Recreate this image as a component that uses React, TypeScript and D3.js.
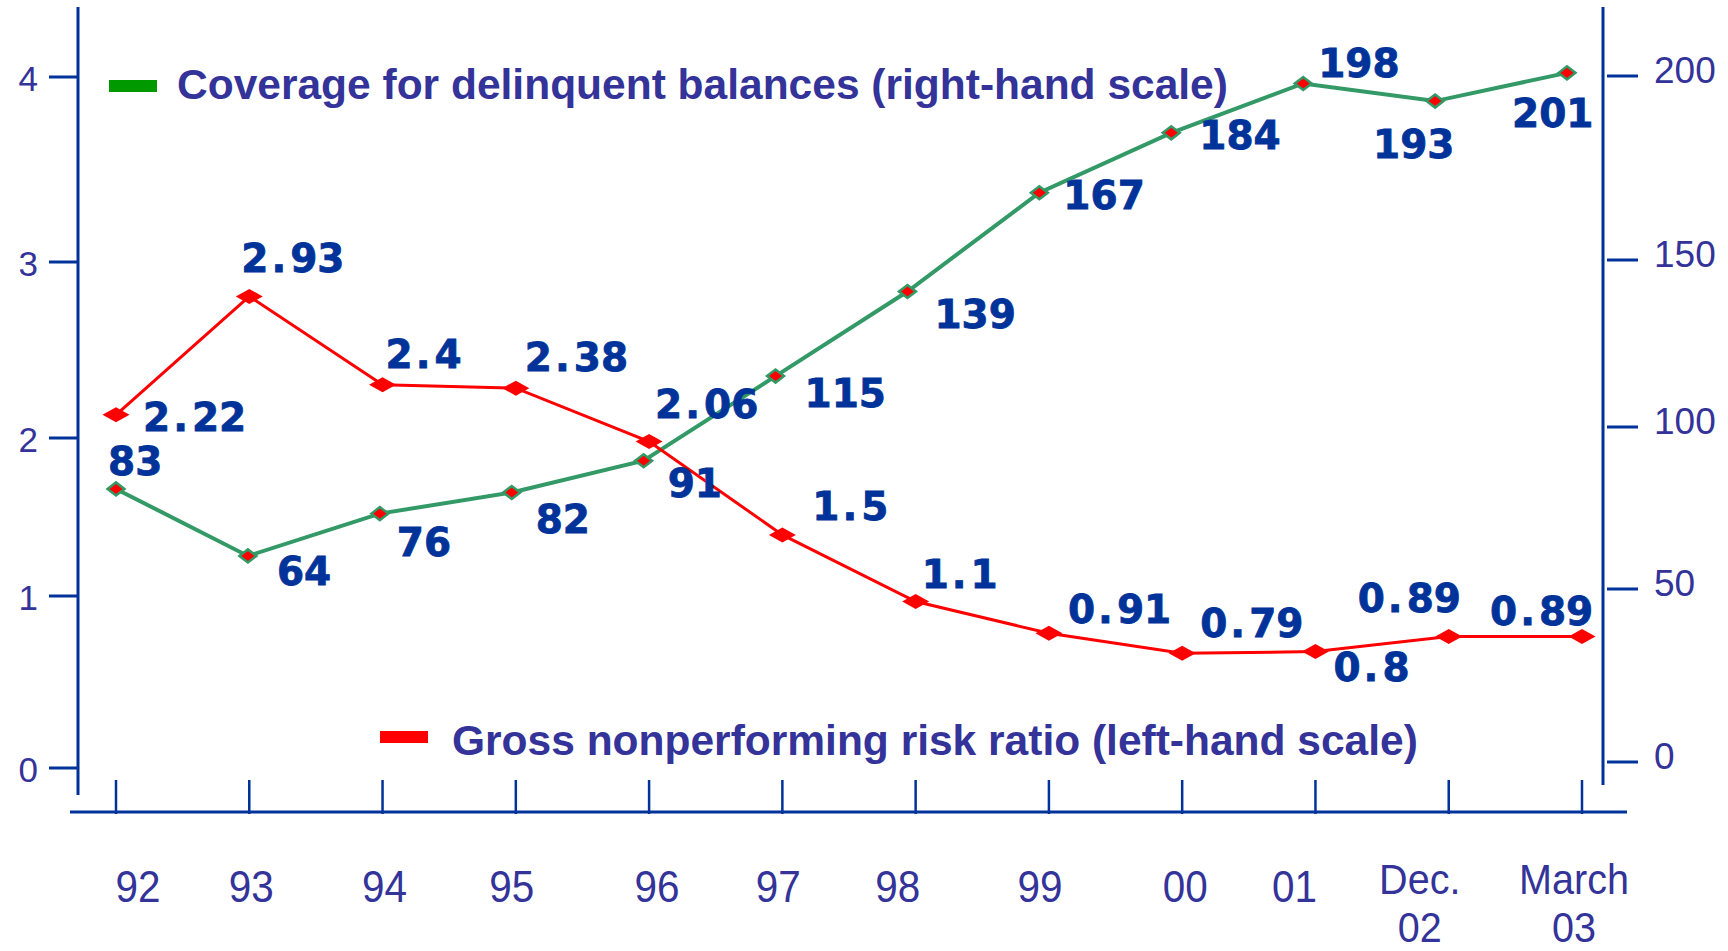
import React from "react";
import * as d3 from "d3";

const categories = ["92", "93", "94", "95", "96", "97", "98", "99", "00", "01", "Dec. 02", "March 03"];
const riskRatio = [2.22, 2.93, 2.4, 2.38, 2.06, 1.5, 1.1, 0.91, 0.79, 0.8, 0.89, 0.89];
const coverage = [83, 64, 76, 82, 91, 115, 139, 167, 184, 198, 193, 201];
const leftTicks = [0, 1, 2, 3, 4];
const rightTicks = [0, 50, 100, 150, 200];
const legendCoverage = "Coverage for delinquent balances (right-hand scale)";
const legendRisk = "Gross nonperforming risk ratio (left-hand scale)";

// label placement (offset from the point: x to text start, y to baseline)
const riskLabelOffsets = [
  [27, 16], [-8, -24], [3, -17], [9, -17], [6, -23], [30, -15],
  [6, -14], [19, -10], [18, -16], [18, 29], [-91, -25], [-92, -12],
];
const coverageLabelOffsets = [
  [-8, -14], [29, 29], [17, 42], [24, 41], [24, 36], [29, 31],
  [27, 37], [24, 16], [28, 16], [15, -6], [-62, 57], [-55, 54],
];
// horizontal nudge of category labels relative to their tick
const categoryLabelNudge = [22, 2, 2, -4, 8, -4, -18, -9, 3, -21, -29, -8];

const W = 1728;
const H = 951;
const AXIS = "#003399";
const TXT = "#333399";
const LBL = "#003399";
const RED = "#ff0000";
const GREEN = "#339966";

const xRisk = d3.scalePoint<string>().domain(categories).range([116, 1582]);
const xCov = d3.scalePoint<string>().domain(categories).range([116, 1567]);
const yRisk = d3.scaleLinear().domain([0, 4]).range([785, 118]);
const yCov = d3.scaleLinear().domain([0, 200]).range([781.6, 76.4]);
// axis graduations as drawn in the source
const yLeftAxis = d3.scaleLinear().domain(leftTicks).range([768, 596, 438, 262, 77]);
const yRightAxis = d3.scaleLinear().domain(rightTicks).range([762, 589, 427, 260, 76]);

const diamond = (x: number, y: number, w: number, h: number) =>
  `M${x - w / 2},${y}L${x},${y - h / 2}L${x + w / 2},${y}L${x},${y + h / 2}Z`;

function ValueLabel({ x, y, text }: { x: number; y: number; text: string }) {
  const parts = text.split(".");
  return (
    <text
      x={x}
      y={y}
      fill={LBL}
      stroke={LBL}
      strokeWidth={0.8}
      fontFamily="'DejaVu Sans', Verdana, sans-serif"
      fontWeight="bold"
      fontSize={39}
    >
      {parts.length > 1 ? (
        <>
          {parts[0]}
          <tspan dx={3}>.</tspan>
          <tspan dx={4}>{parts[1]}</tspan>
        </>
      ) : (
        text
      )}
    </text>
  );
}

export default function App() {
  const riskLine = d3
    .line<number>()
    .x((_, i) => xRisk(categories[i]) as number)
    .y((d) => yRisk(d))(riskRatio) as string;
  const covLine = d3
    .line<number>()
    .x((_, i) => xCov(categories[i]) as number)
    .y((d) => yCov(d))(coverage) as string;

  return (
    <svg
      width={W}
      height={H}
      style={{ position: "absolute", left: 0, top: 0, background: "#fff" }}
    >
      <rect x={0} y={0} width={W} height={H} fill="#fff" />

      {/* left axis */}
      <line x1={78} x2={78} y1={7} y2={795} stroke={AXIS} strokeWidth={3} />
      {leftTicks.map((t) => (
        <g key={"l" + t}>
          <line x1={49} x2={78} y1={yLeftAxis(t)} y2={yLeftAxis(t)} stroke={AXIS} strokeWidth={3} />
          <text
            x={38}
            y={yLeftAxis(t) + 14}
            textAnchor="end"
            fill={TXT}
            fontFamily="'Liberation Sans', Arial, sans-serif"
            fontSize={35}
          >
            {t}
          </text>
        </g>
      ))}

      {/* right axis */}
      <line x1={1603} x2={1603} y1={7} y2={785} stroke={AXIS} strokeWidth={3} />
      {rightTicks.map((t) => (
        <g key={"r" + t}>
          <line x1={1607} x2={1638} y1={yRightAxis(t)} y2={yRightAxis(t)} stroke={AXIS} strokeWidth={3} />
          <text
            x={1654}
            y={yRightAxis(t) + 7}
            fill={TXT}
            fontFamily="'Liberation Sans', Arial, sans-serif"
            fontSize={37}
          >
            {t}
          </text>
        </g>
      ))}

      {/* x axis */}
      <line x1={70} x2={1627} y1={812} y2={812} stroke={AXIS} strokeWidth={3} />
      {categories.map((c, i) => {
        const x = xRisk(c) as number;
        const lines = c.split(" ");
        const multi = lines.length > 1;
        return (
          <g key={"x" + c}>
            <line x1={x} x2={x} y1={780} y2={814} stroke={AXIS} strokeWidth={2.5} />
            {lines.map((l, j) => (
              <text
                key={j}
                transform={`translate(${x + categoryLabelNudge[i]},${multi ? 894 + j * 48 : 902}) scale(0.92,1)`}
                textAnchor="middle"
                fill={TXT}
                fontFamily="'Liberation Sans', Arial, sans-serif"
                fontSize={multi ? 43 : 44}
              >
                {l}
              </text>
            ))}
          </g>
        );
      })}

      {/* legends */}
      <rect x={109} y={80} width={48} height={12} fill="#009900" />
      <text
        x={177}
        y={99}
        fill={TXT}
        fontFamily="'Liberation Sans', Arial, sans-serif"
        fontWeight="bold"
        fontSize={42.5}
      >
        {legendCoverage}
      </text>
      <rect x={380} y={731} width={48} height={12} fill={RED} />
      <text
        x={452}
        y={755}
        fill={TXT}
        fontFamily="'Liberation Sans', Arial, sans-serif"
        fontWeight="bold"
        fontSize={42.5}
      >
        {legendRisk}
      </text>

      {/* coverage series */}
      <path d={covLine} fill="none" stroke={GREEN} strokeWidth={4} />
      {coverage.map((v, i) => {
        const x = xCov(categories[i]) as number;
        const y = yCov(v);
        return (
          <path key={"cm" + i} d={diamond(x, y, 17, 13)} fill={RED} stroke={GREEN} strokeWidth={2.5} />
        );
      })}

      {/* risk series */}
      <path d={riskLine} fill="none" stroke={RED} strokeWidth={3} />
      {riskRatio.map((v, i) => {
        const x = xRisk(categories[i]) as number;
        const y = yRisk(v);
        return <path key={"rm" + i} d={diamond(x, y, 27, 15)} fill={RED} />;
      })}

      {/* value labels */}
      {coverage.map((v, i) => (
        <ValueLabel
          key={"cl" + i}
          x={(xCov(categories[i]) as number) + coverageLabelOffsets[i][0]}
          y={yCov(v) + coverageLabelOffsets[i][1]}
          text={String(v)}
        />
      ))}
      {riskRatio.map((v, i) => (
        <ValueLabel
          key={"rl" + i}
          x={(xRisk(categories[i]) as number) + riskLabelOffsets[i][0]}
          y={yRisk(v) + riskLabelOffsets[i][1]}
          text={String(v)}
        />
      ))}
    </svg>
  );
}
